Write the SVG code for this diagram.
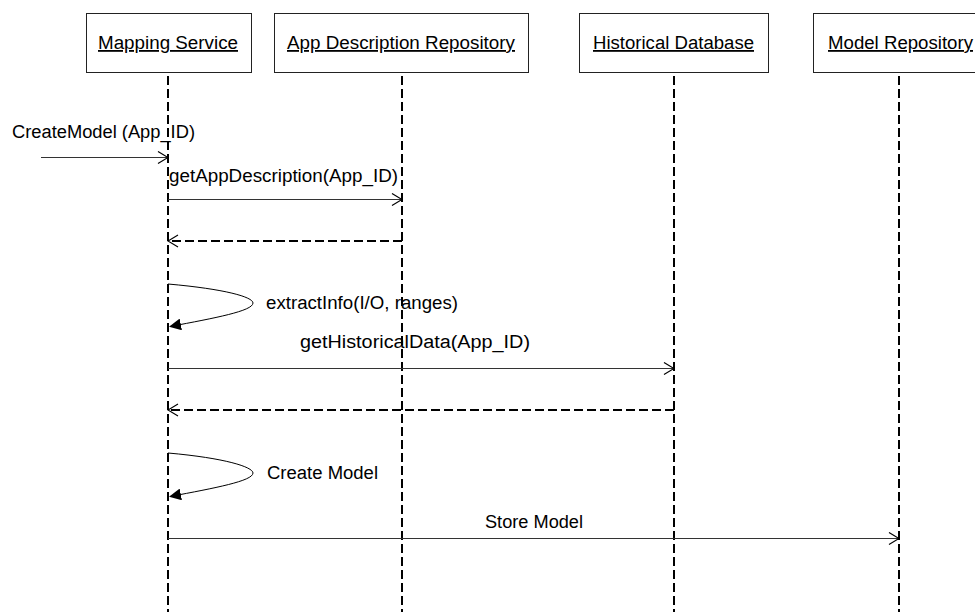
<svg xmlns="http://www.w3.org/2000/svg" width="975" height="612" viewBox="0 0 975 612">
  <style>
    .box { fill: #fff; stroke: #222; stroke-width: 1; }
    .title { font-family: "Liberation Sans", Arial, sans-serif; font-size: 18px; fill: #000; text-decoration: underline; }
    .label { font-family: "Liberation Sans", Arial, sans-serif; font-size: 18px; fill: #000; }
    .life { stroke: #000; stroke-width: 2; stroke-dasharray: 9 4; fill: none; }
    .msg { stroke: #333; stroke-width: 1; fill: none; }
    .ret { stroke: #000; stroke-width: 2; stroke-dasharray: 9 4; fill: none; }
    .loop { stroke: #000; stroke-width: 1; fill: none; }
  </style>
  <defs>
    <marker id="open" viewBox="0 0 12 14" refX="11" refY="7" markerWidth="12" markerHeight="14" markerUnits="userSpaceOnUse" orient="auto">
      <path d="M1,1 L11,7 L1,13" fill="none" stroke="#000" stroke-width="1.2"/>
    </marker>
    <marker id="filled" viewBox="0 0 12 12" refX="11" refY="6" markerWidth="12" markerHeight="12" markerUnits="userSpaceOnUse" orient="auto">
      <path d="M0,0 L12,6 L0,12 Z" fill="#000"/>
    </marker>
  </defs>

  <!-- participants -->
  <g id="mapping-service">
    <rect class="box" x="86.5" y="13.5" width="165" height="59"/>
    <text class="title" x="98" y="49" textLength="140" lengthAdjust="spacingAndGlyphs">Mapping Service</text>
    <line class="life" x1="168" y1="76" x2="168" y2="612"/>
  </g>
  <g id="app-description-repository">
    <rect class="box" x="274.5" y="13.5" width="254" height="59"/>
    <text class="title" x="287" y="49" textLength="228" lengthAdjust="spacingAndGlyphs">App Description Repository</text>
    <line class="life" x1="402" y1="76" x2="402" y2="612"/>
  </g>
  <g id="historical-database">
    <rect class="box" x="579.5" y="13.5" width="189" height="59"/>
    <text class="title" x="593" y="49" textLength="161" lengthAdjust="spacingAndGlyphs">Historical Database</text>
    <line class="life" x1="674" y1="76" x2="674" y2="612"/>
  </g>
  <g id="model-repository">
    <rect class="box" x="813.5" y="13.5" width="170" height="59"/>
    <text class="title" x="828" y="49" textLength="145" lengthAdjust="spacingAndGlyphs">Model Repository</text>
    <line class="life" x1="899" y1="76" x2="899" y2="612"/>
  </g>

  <!-- messages -->
  <g id="connectors">
    <line class="msg" x1="41" y1="157.5" x2="168" y2="157.5" marker-end="url(#open)"/>
    <text class="label" x="12" y="138" textLength="183" lengthAdjust="spacingAndGlyphs">CreateModel (App_ID)</text>

    <line class="msg" x1="168" y1="199.5" x2="402" y2="199.5" marker-end="url(#open)"/>
    <text class="label" x="169" y="182" textLength="229" lengthAdjust="spacingAndGlyphs">getAppDescription(App_ID)</text>

    <line class="ret" x1="402" y1="241" x2="168" y2="241" marker-end="url(#open)"/>

    <path class="loop" d="M168,284 C225,289 253,297 253,303 C253,311 215,318 170,326.5" marker-end="url(#filled)"/>
    <text class="label" x="266" y="309" textLength="192" lengthAdjust="spacingAndGlyphs">extractInfo(I/O, ranges)</text>

    <line class="msg" x1="168" y1="368.5" x2="674" y2="368.5" marker-end="url(#open)"/>
    <text class="label" x="300" y="348" textLength="230" lengthAdjust="spacingAndGlyphs">getHistoricalData(App_ID)</text>

    <line class="ret" x1="674" y1="410" x2="168" y2="410" marker-end="url(#open)"/>

    <path class="loop" d="M168,453 C225,458 253,467 253,473 C253,481 215,488 170,496.5" marker-end="url(#filled)"/>
    <text class="label" x="267" y="479" textLength="111" lengthAdjust="spacingAndGlyphs">Create Model</text>

    <line class="msg" x1="168" y1="538.5" x2="899" y2="538.5" marker-end="url(#open)"/>
    <text class="label" x="485" y="528" textLength="98" lengthAdjust="spacingAndGlyphs">Store Model</text>
  </g>
</svg>
